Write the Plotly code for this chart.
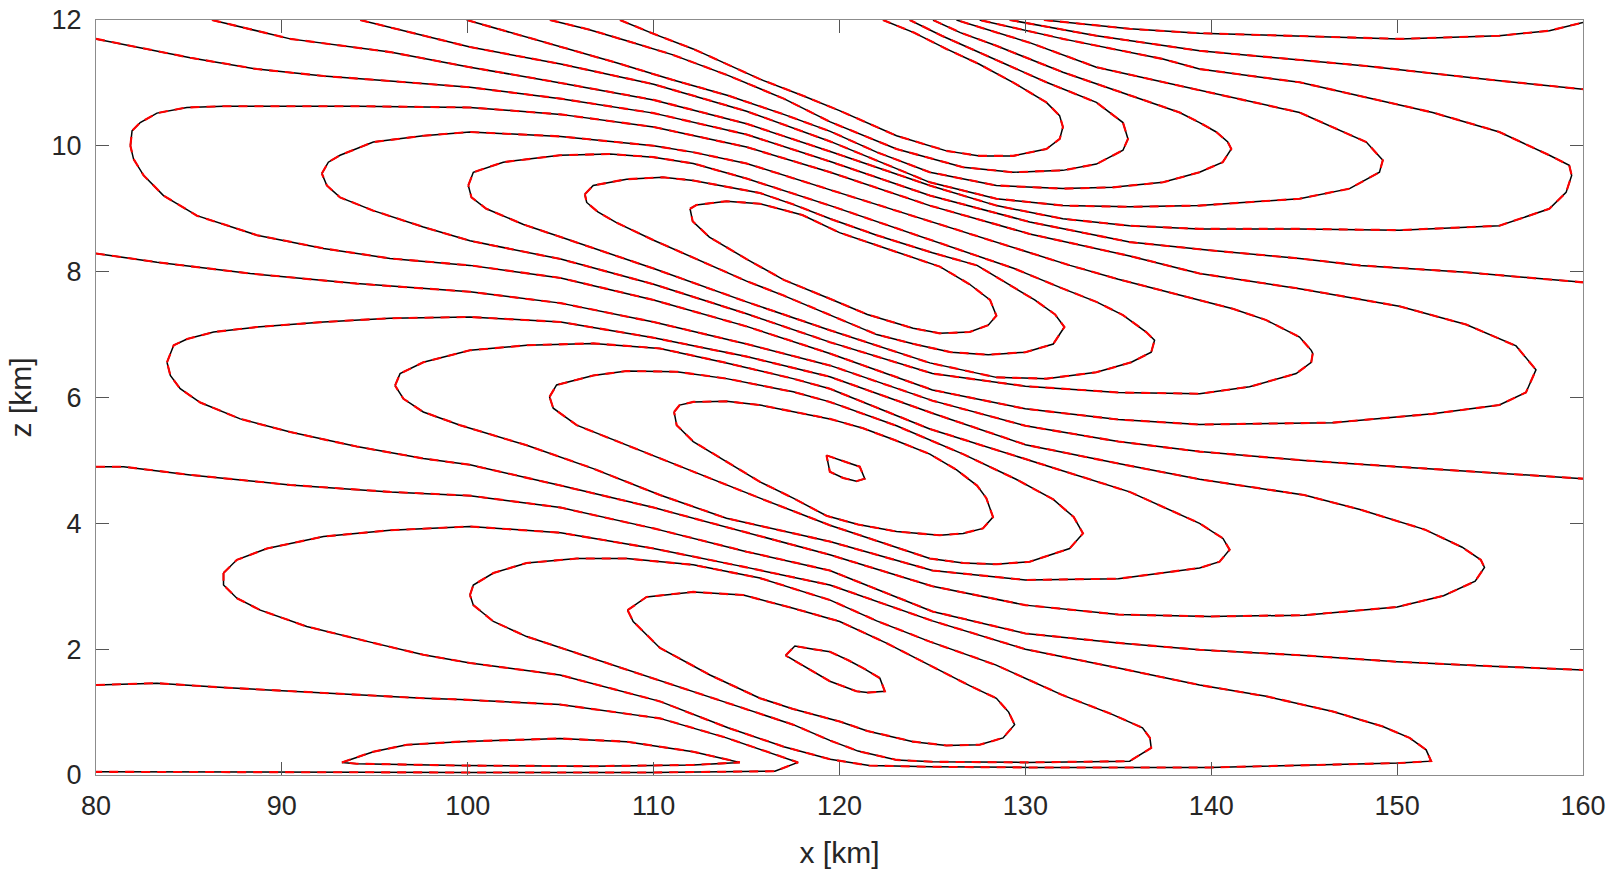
import plotly.graph_objects as go

# ---- contour lines (x in km, z in km) ----
T1_x = [108.19,110.0,112.13,115.72,118.0,120.0,123.07,125.75,127.54,129.34,131.13,131.85,132.02,131.84,131.13,129.33,127.5,125.75,124.0,122.34]
T1_z = [12.0,11.78,11.54,11.06,10.8,10.56,10.16,9.92,9.84,9.84,9.95,10.11,10.30,10.48,10.69,11.01,11.3,11.54,11.8,12.0]
T2_x = [104.42,106.5,108.55,111.0,114.0,117.0,119.5,123.07,126.65,129.33,132.02,133.82,135.25,135.52,135.25,133.82,131.13,127.54,125.5,123.78]
T2_z = [12.0,11.85,11.67,11.45,11.12,10.75,10.38,9.95,9.66,9.58,9.61,9.71,9.93,10.11,10.37,10.69,11.01,11.49,11.75,12.0]
T3_x = [99.95,102,105,108,111,114,117,119.5,122,124.86,128.44,132.02,134.71,137.4,139.37,140.62,141.08,140.89,140.27,139.37,138.3,135.61,132.02,128.44,126.5,125.03]
T3_z = [12.0,11.83,11.57,11.32,11.05,10.8,10.5,10.23,9.9,9.58,9.37,9.32,9.34,9.42,9.58,9.74,9.95,10.06,10.22,10.37,10.53,10.80,11.17,11.59,11.8,12.0]
T4_x = [94.21,97.61,100.12,105,110,115,119.5,124.86,128.44,132.02,135.61,139.37,144.75,147.44,149.05,149.23,148.34,144.75,139.37,137.4,133.82,130.23,126.29]
T4_z = [12.0,11.75,11.57,11.3,10.98,10.55,10.07,9.42,9.16,9.05,9.03,9.05,9.16,9.32,9.58,9.77,10.06,10.53,10.88,11.01,11.25,11.64,12.0]
T5_x = [86.24,90.45,95.82,100.12,105,110,115,119.5,124.86,128.44,132.02,135.61,139.37,144.75,150.12,155.5,158.19,159.09,159.39,159.26,158.19,155.5,151.91,144.75,139.37,137.4,132.02,127.54]
T5_z = [12.0,11.70,11.49,11.25,11.0,10.73,10.35,9.91,9.37,9.05,8.84,8.73,8.68,8.68,8.66,8.73,9.0,9.26,9.53,9.69,9.85,10.22,10.53,11.01,11.22,11.38,11.70,12.0]
Z1_x = [80.0,85.07,88.66,92.24,95.82,100.12,105,110,115,119.5,124.86,130.23,135.61,139.91,144.75,148.0,153.7,160]
Z1_z = [11.70,11.40,11.22,11.11,11.03,10.93,10.75,10.52,10.18,9.75,9.21,8.79,8.47,8.34,8.21,8.1,7.99,7.83]
R1_x = [129.16,133.82,139.37,148.33,155,160]
R1_z = [12.0,11.75,11.51,11.27,11.05,10.9]
R2_x = [131.0,135.61,139.37,144.75,150.12,155.5,158.19,160]
R2_z = [12.0,11.86,11.79,11.74,11.70,11.75,11.83,11.96]

U1_x = [81.85,81.94,82.38,83.28,84.89,86.86,94.03,100.12,105,110,115,119.5,124.86,130.23,135.61,139.37,144.75,150.12,153.71,156.4,157.47,156.93,155.5,151.91,146.53,139.37,135,130,125,119.48,115,110,105,100.12,95.82,92.24,88.66,85.43,83.63,82.56,82.02,81.85]
U1_z = [10.0,10.24,10.37,10.52,10.61,10.63,10.63,10.61,10.5,10.3,9.98,9.58,9.05,8.6,8.25,7.97,7.73,7.45,7.16,6.82,6.44,6.08,5.88,5.74,5.60,5.57,5.65,5.82,6.12,6.70,7.13,7.55,7.9,8.10,8.21,8.37,8.58,8.89,9.21,9.53,9.79,10.0]
U2_x = [92.15,92.5,93.13,94.92,97.61,100.12,105,110,112.1,115,119.5,124.86,130,132.4,135,139.37,141.16,142.96,144.75,145.38,145.46,145.38,144.57,142.06,139.37,135,130,125,119.48,115,110,105,100.12,97.61,94.92,93.13,92.42,92.15]
U2_z = [9.56,9.74,9.85,10.06,10.16,10.22,10.15,10.0,9.9,9.72,9.30,8.8,8.32,8.1,7.88,7.54,7.41,7.23,6.96,6.75,6.70,6.56,6.38,6.17,6.06,6.08,6.18,6.38,6.88,7.33,7.8,8.2,8.49,8.71,8.97,9.18,9.37,9.56]
U3_x = [100.03,100.3,101.91,104.96,107.65,110,112.13,115,119.5,124,127,129.4,132.02,133.82,135.25,136.5,136.95,136.77,135.7,133.82,131.13,128.44,124.86,119.48,115,110,105,103,101,100.2,100.03]
U3_z = [9.37,9.58,9.74,9.85,9.87,9.82,9.72,9.48,9.05,8.6,8.3,8.05,7.73,7.52,7.31,7.04,6.91,6.72,6.56,6.40,6.30,6.32,6.55,7.07,7.52,8.05,8.55,8.75,9.0,9.18,9.37]
U4_x = [106.3,106.75,108.55,110.5,112.13,114,115.72,117.5,119.5,122,125,127.4,129,130.5,131.6,132.1,131.5,130,128,126,124,122,119.5,117,115,112.5,110,108,107.0,106.4,106.3]
U4_z = [9.23,9.37,9.47,9.5,9.45,9.35,9.25,9.07,8.84,8.58,8.3,8.1,7.82,7.55,7.32,7.12,6.85,6.72,6.68,6.72,6.85,7.0,7.31,7.62,7.85,8.18,8.5,8.78,8.95,9.1,9.23]
U5_x = [111.96,112.3,113.92,115.72,118,120,122,124,125.4,127,128.1,128.44,128.0,127.0,125.4,123.96,121.5,119.48,117,115,113,112.1,111.96]
U5_z = [9.0,9.06,9.12,9.08,8.9,8.62,8.42,8.22,8.08,7.8,7.55,7.30,7.15,7.04,7.02,7.10,7.32,7.57,7.87,8.2,8.55,8.8,9.0]
Z2_x = [80.0,83.28,88.3,94.03,100.12,105,110,115,119.48,125,130,135,139.37,145,150,155,160]
Z2_z = [8.29,8.15,7.97,7.81,7.68,7.5,7.2,6.85,6.51,5.95,5.55,5.3,5.14,5.0,4.9,4.8,4.71]

M1_x = [83.82,84.18,84.9,86.33,88.66,92.24,95.82,100.12,105,110,115,119.48,125,130,135,139.37,145,148,151.5,153.5,154.5,154.7,154.2,152.5,150,145,139.91,135,130,125,119.48,115,110,105,100.12,97.61,94.03,90.45,87.76,85.61,84.53,84.0,83.82]
M1_z = [6.56,6.83,6.93,7.04,7.12,7.20,7.26,7.28,7.2,6.95,6.65,6.33,5.75,5.25,4.95,4.7,4.45,4.22,3.9,3.62,3.42,3.30,3.08,2.85,2.67,2.54,2.52,2.55,2.7,3.0,3.50,3.85,4.25,4.6,4.93,5.03,5.22,5.45,5.66,5.92,6.14,6.35,6.56]
M2_x = [96.09,96.36,97.61,100.12,103.17,106.75,110.34,113.92,117.5,119.48,124.86,130.23,135.61,139.37,140.63,140.99,140.45,139.37,135,130,125,119.48,113.92,110.34,106.75,103.17,99.59,97.61,96.54,96.09]
M2_z = [6.19,6.38,6.56,6.75,6.83,6.86,6.78,6.55,6.3,6.14,5.5,5.0,4.5,4.0,3.76,3.58,3.39,3.29,3.12,3.1,3.25,3.71,4.08,4.45,4.87,5.24,5.56,5.77,5.98,6.19]
M3_x = [104.4,104.78,106.75,108.55,111.24,113.92,117.51,119.48,123.07,126.65,129.5,131.5,132.6,133.1,132.38,130.23,128.44,126.65,124.86,122.17,119.48,115.72,112.13,108.55,105.86,104.6,104.4]
M3_z = [6.01,6.20,6.35,6.42,6.41,6.30,6.09,5.93,5.55,5.1,4.7,4.38,4.1,3.84,3.60,3.39,3.35,3.37,3.44,3.71,3.97,4.40,4.82,5.24,5.56,5.83,6.01]
M4_x = [111.1,111.4,112.13,113.92,115.72,117.51,119.48,121.27,123,124.86,126.3,127.4,127.9,128.26,127.72,126.65,125.39,123.07,121,119.3,117.51,115.72,113.92,112.13,111.24,111.1]
M4_z = [5.77,5.88,5.93,5.94,5.88,5.77,5.66,5.51,5.32,5.1,4.85,4.6,4.4,4.1,3.92,3.84,3.81,3.87,3.98,4.12,4.40,4.66,4.98,5.30,5.56,5.77]
M5_x = [119.3,119.48,120.3,121.09,121.36,120.91,120.2,119.48,119.3]
M5_z = [5.08,5.06,4.98,4.90,4.71,4.67,4.72,4.82,5.08]
Z3_x = [80.0,81.48,85.07,90.45,95.82,100.12,105,110,115,119.48,125,130,135,139.37,145,150,155,160]
Z3_z = [4.90,4.90,4.77,4.61,4.50,4.44,4.25,3.92,3.55,3.25,2.6,2.25,2.1,1.99,1.9,1.8,1.73,1.67]

L1_x = [86.86,87.58,89.2,92.24,95.82,100.12,105,110,115,119.48,125,130,135,139.37,142.96,146.54,149.23,150.67,151.56,151.83,150.12,145,139.91,130.23,125,121.6,119.5,117,114,110.34,104.96,100.12,97.61,94.92,91.34,88.84,87.58,86.86,86.86]
L1_z = [3.21,3.42,3.60,3.79,3.89,3.95,3.85,3.6,3.3,3.02,2.45,2.0,1.7,1.43,1.25,1.01,0.77,0.59,0.40,0.22,0.19,0.15,0.12,0.12,0.13,0.15,0.25,0.45,0.75,1.17,1.59,1.78,1.91,2.10,2.36,2.62,2.81,3.02,3.21]
L2_x = [100.12,100.3,101.38,103.17,105.86,108.55,112.13,115.72,119.5,122,124.86,128.4,132.0,134.7,136.3,136.7,136.77,135.61,130,125,123.07,121,119.48,117.51,113.92,110.34,106.75,103.17,101.38,100.3,100.12]
L2_z = [2.86,3.02,3.21,3.37,3.44,3.44,3.34,3.13,2.78,2.45,2.12,1.75,1.27,0.96,0.75,0.59,0.43,0.22,0.2,0.21,0.24,0.38,0.55,0.8,1.15,1.5,1.85,2.20,2.44,2.70,2.86]
L3_x = [108.6,109.62,112.13,114.82,117.51,120.01,122.5,124.86,127,128.44,129.1,129.42,128.8,127.54,125.75,123.96,121.5,120.01,117.5,115.72,113.03,110.34,108.9,108.6]
L3_z = [2.62,2.83,2.91,2.86,2.65,2.44,2.1,1.75,1.42,1.22,1.0,0.80,0.59,0.48,0.47,0.53,0.7,0.85,1.05,1.22,1.59,2.02,2.44,2.62]
L4_x = [117.1,117.6,118.6,119.48,120.5,121.27,122.17,122.44,121.5,120.91,119.48,118.3,117.1]
L4_z = [1.9,2.05,2.0,1.96,1.82,1.70,1.54,1.33,1.31,1.33,1.49,1.7,1.9]
Z4_x = [80.0,83.28,86.86,92.24,97.61,99.59,104.96,110.34,113.92,116.0,117.77,116.52,110,100,90,80.0]
Z4_z = [1.43,1.46,1.39,1.30,1.22,1.20,1.12,0.90,0.59,0.38,0.20,0.06,0.04,0.04,0.04,0.05]
G1_x = [93.23,94.92,96.72,99.59,104.96,108.55,112.13,114.64,112.13,106.75,99.59,97.61,94.03,93.23]
G1_z = [0.20,0.37,0.48,0.53,0.58,0.53,0.37,0.20,0.16,0.14,0.15,0.16,0.18,0.20]

x_ticks = [80, 90, 100, 110, 120, 130, 140, 150, 160]
z_ticks = [0, 2, 4, 6, 8, 10, 12]

lines = [
    (T1_x, T1_z), (T2_x, T2_z), (T3_x, T3_z), (T4_x, T4_z), (T5_x, T5_z),
    (Z1_x, Z1_z), (R1_x, R1_z), (R2_x, R2_z),
    (U1_x, U1_z), (U2_x, U2_z), (U3_x, U3_z), (U4_x, U4_z), (U5_x, U5_z),
    (Z2_x, Z2_z),
    (M1_x, M1_z), (M2_x, M2_z), (M3_x, M3_z), (M4_x, M4_z), (M5_x, M5_z),
    (Z3_x, Z3_z),
    (L1_x, L1_z), (L2_x, L2_z), (L3_x, L3_z), (L4_x, L4_z),
    (Z4_x, Z4_z), (G1_x, G1_z),
]

fig = go.Figure()
for xs, zs in lines:
    fig.add_trace(go.Scatter(x=xs, y=zs, mode="lines",
                             line=dict(color="black", width=1.5),
                             showlegend=False, hoverinfo="skip"))
for xs, zs in lines:
    fig.add_trace(go.Scatter(x=xs, y=zs, mode="lines",
                             line=dict(color="#ff0000", width=2.1, dash="9px,7px"),
                             showlegend=False, hoverinfo="skip"))

FONT = "Liberation Sans, Arial, Helvetica"
axis_common = dict(showgrid=False, zeroline=False, showline=True, automargin=False,
                   linecolor="#8c8c8c", linewidth=1.3, mirror="ticks",
                   ticks="inside", ticklen=13, tickwidth=1, tickcolor="#555555",
                   ticklabeloverflow="allow",
                   tickfont=dict(family=FONT, size=27, color="#262626"))

fig.update_layout(
    width=1620, height=877,
    margin=dict(l=96, r=37, t=20, b=102, autoexpand=False),
    paper_bgcolor="white", plot_bgcolor="white",
    xaxis=dict(range=[80, 160], tickvals=x_ticks, ticklabelstandoff=6,
               title=dict(text="x [km]", standoff=22,
                          font=dict(family=FONT, size=30, color="#262626")),
               **axis_common),
    yaxis=dict(range=[0, 12], tickvals=z_ticks, ticklabelstandoff=8,
               title=dict(text="z [km]", standoff=10,
                          font=dict(family=FONT, size=30, color="#262626")),
               **axis_common),
)

# remove the default page margin so the figure sits at the window's top-left corner
fig.write_html("out.html", config={"displayModeBar": False},
               post_script="document.body.style.margin='0px';")
